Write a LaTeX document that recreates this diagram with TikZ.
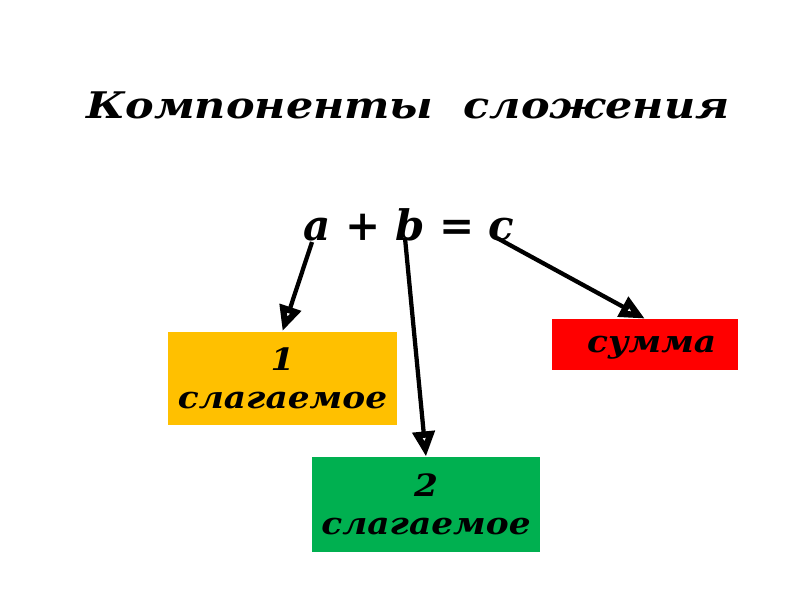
\documentclass[tikz,border=0pt]{standalone}
\usepackage{fontspec}
\setmainfont{DejaVu Serif}
\newfontfamily\bkfont[FakeStretch=1.12]{DejaVu Serif}
\newfontfamily\ttlfont[FakeStretch=1.17]{DejaVu Serif}
\usetikzlibrary{arrows.meta}
\definecolor{boxorange}{HTML}{FFC000}
\definecolor{boxgreen}{HTML}{00B050}
\definecolor{boxred}{HTML}{FF0000}
\tikzset{
  lbl/.style={inner sep=0pt},
  compbox/.style={draw=none, inner sep=0pt, align=center, font=\bkfont\fontsize{23}{28.5}\selectfont\bfseries\itshape},
  pointer/.style={line width=3.2pt, -{Triangle[open,length=19pt,width=16pt,line width=5pt]}}
}
\begin{document}
\begin{tikzpicture}[x=0.75pt,y=-0.75pt]
\useasboundingbox (0,0) rectangle (800,600);
\node[lbl, anchor=base, font=\ttlfont\fontsize{27.5}{30}\selectfont\bfseries\itshape] (title) at (408,118) {Компоненты\ \ сложения};
\node[lbl, anchor=base, font=\fontsize{31.5}{34}\selectfont\bfseries\itshape] (eq) at (409,240) {a + b = c};
\node[compbox, fill=boxorange, minimum width=171.75pt, minimum height=69.75pt] (s1) at (282.5,378) {1\\слагаемое};
\node[compbox, fill=boxgreen, minimum width=171pt, minimum height=71.25pt] (s2) at (426,504.5) {2\\слагаемое};
\node[compbox, fill=boxred, minimum width=139.5pt, minimum height=38.25pt, text depth=0pt] (sum) at (645,344.5) {\hspace*{10pt}сумма};
\coordinate (ca) at (312,242);
\coordinate (cb) at (405,238);
\coordinate (cc) at (497,238);
\draw[pointer] (ca) -- (s1.north);
\draw[pointer] (cb) -- (s2.north);
\draw[pointer] (cc) -- (sum.north);
\end{tikzpicture}
\end{document}
